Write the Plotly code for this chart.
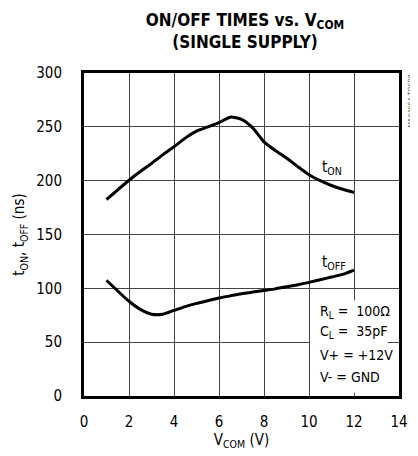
import plotly.graph_objects as go

vcom = [1, 1.5, 2, 2.5, 3, 3.5, 4, 4.5, 5, 5.5, 6, 6.5, 7, 7.5, 8, 8.5, 9, 9.5, 10, 10.5, 11, 11.5, 12]
t_on = [182.5, 191.5, 200.4, 208.5, 216, 224, 231.5, 239.5, 246, 250, 254, 259, 257, 249, 236, 228, 221, 213, 205.5, 200, 195.5, 192, 189]
t_off = [107.5, 97.5, 88, 80.5, 76, 76, 79.5, 83, 86, 88.5, 91, 93, 95, 96.5, 98, 99.5, 101.5, 103.3, 105.5, 108, 110.5, 113, 117]

x_ticks = [0, 2, 4, 6, 8, 10, 12, 14]
y_ticks = [0, 50, 100, 150, 200, 250, 300]

conditions = ["R<sub>L</sub> =  100Ω", "C<sub>L</sub> =  35pF", "V+ = +12V", "V- = GND"]
cond_y = [78, 59, 38.5, 18]

FONT = "DejaVu Sans Condensed, Liberation Sans Narrow, Arial Narrow, sans-serif"

fig = go.Figure()
fig.add_trace(go.Scatter(x=vcom, y=t_on, mode="lines", line=dict(color="black", width=3, shape="spline", smoothing=0.6), showlegend=False))
fig.add_trace(go.Scatter(x=vcom, y=t_off, mode="lines", line=dict(color="black", width=3, shape="spline", smoothing=0.6), showlegend=False))

# white box behind the conditions text
fig.add_shape(type="rect", xref="x", yref="y", x0=10.05, x1=13.5, y0=3, y1=89,
              fillcolor="white", line=dict(width=0), layer="above")

for txt, yy in zip(conditions, cond_y):
    fig.add_annotation(x=10.4, y=yy, xref="x", yref="y", text=txt, showarrow=False,
                       xanchor="left", yanchor="middle", font=dict(size=14, color="black", family=FONT))

fig.add_annotation(x=10.5, y=212, xref="x", yref="y", text="t<sub>ON</sub>", showarrow=False,
                   xanchor="left", yanchor="middle", font=dict(size=15, color="black", family=FONT))
fig.add_annotation(x=10.5, y=124, xref="x", yref="y", text="t<sub>OFF</sub>", showarrow=False,
                   xanchor="left", yanchor="middle", font=dict(size=15, color="black", family=FONT))
fig.add_annotation(x=1.0, y=1.0, xref="paper", yref="paper", xshift=5, text="MAX4664 TOC08", showarrow=False,
                   textangle=-90, xanchor="left", yanchor="top", font=dict(size=7, color="#555", family=FONT))

# the page adds an 8px body margin, so the figure is sized to fit the 418x456 window
fig.update_layout(
    width=410, height=448,
    margin=dict(l=75.5, r=10, t=65, b=59),
    paper_bgcolor="white", plot_bgcolor="white",
    font=dict(family=FONT, size=15, color="black"),
    title=dict(text="<b>ON/OFF TIMES vs. V<sub>COM</sub><br>(SINGLE SUPPLY)</b>", x=0.578, xanchor="center",
               y=0.96, yanchor="top", font=dict(size=17, family=FONT, color="black")),
)
fig.update_xaxes(range=[0, 14], tickvals=x_ticks, showgrid=True, gridcolor="#444", gridwidth=1,
                 showline=True, linecolor="black", linewidth=3, mirror=True, ticks="",
                 zeroline=False, ticklabelstandoff=10,
                 title=dict(text="V<sub>COM</sub> (V)", standoff=4, font=dict(size=15)))
fig.update_yaxes(range=[0, 300], tickvals=y_ticks, showgrid=True, gridcolor="#444", gridwidth=1,
                 showline=True, linecolor="black", linewidth=3, mirror=True, ticks="",
                 zeroline=False, ticklabelstandoff=16,
                 title=dict(text="t<sub>ON</sub>, t<sub>OFF</sub> (ns)", standoff=8, font=dict(size=15)))

fig.write_html("out.html")
